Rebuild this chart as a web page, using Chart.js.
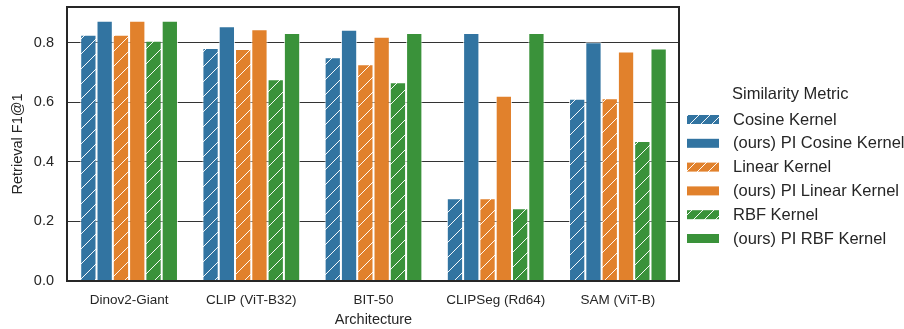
<!DOCTYPE html>
<html>
<head>
<meta charset="utf-8">
<script src="https://cdn.jsdelivr.net/npm/chart.js@4"></script>
<style>
  html, body { margin: 0; padding: 0; background: #fff; }
  #wrap { width: 904px; height: 329px; }
</style>
</head>
<body>
<div id="wrap"><canvas id="myChart" width="904" height="329"></canvas></div>
<script>
// data
var architectures = ['Dinov2-Giant', 'CLIP (ViT-B32)', 'BIT-50', 'CLIPSeg (Rd64)', 'SAM (ViT-B)'];
var cosine   = [0.827, 0.782, 0.751, 0.278, 0.612];
var piCosine = [0.874, 0.855, 0.844, 0.833, 0.802];
var linear   = [0.827, 0.779, 0.728, 0.278, 0.614];
var piLinear = [0.874, 0.845, 0.820, 0.622, 0.771];
var rbf      = [0.807, 0.677, 0.667, 0.244, 0.470];
var piRbf    = [0.874, 0.833, 0.833, 0.833, 0.781];
var yTicks = [0, 0.2, 0.4, 0.6, 0.8];

var BLUE = '#3274a1', ORANGE = '#e1812c', GREEN = '#3a923a';
var FONT = '"Liberation Sans", Arial, sans-serif';
var TEXT = '#262626';

function hatch(color, size) {
    var c = document.createElement('canvas');
    c.width = size; c.height = size;
    var g = c.getContext('2d');
    g.fillStyle = color;
    g.fillRect(0, 0, size, size);
    g.strokeStyle = 'rgba(255,255,255,0.95)';
    g.lineWidth = 1;
    g.beginPath();
    g.moveTo(-1, size + 1); g.lineTo(size + 1, -1);
    g.stroke();
    return g.createPattern(c, 'repeat');
}

var ctx = document.getElementById('myChart').getContext('2d');

var series = [
    { label: 'Cosine Kernel', data: cosine, color: BLUE, hatched: true },
    { label: '(ours) PI Cosine Kernel', data: piCosine, color: BLUE, hatched: false },
    { label: 'Linear Kernel', data: linear, color: ORANGE, hatched: true },
    { label: '(ours) PI Linear Kernel', data: piLinear, color: ORANGE, hatched: false },
    { label: 'RBF Kernel', data: rbf, color: GREEN, hatched: true },
    { label: '(ours) PI RBF Kernel', data: piRbf, color: GREEN, hatched: false }
];

var datasets = series.map(function (s) {
    return {
        label: s.label,
        data: s.data,
        backgroundColor: s.hatched ? hatch(s.color, 15) : s.color,
        borderColor: 'rgba(255,255,255,0.75)',
        borderWidth: 1,
        categoryPercentage: 0.8,
        barPercentage: 1.0,
        legendColor: s.color,
        hatched: s.hatched
    };
});

// frame around the plot + legend on the right
var framePlugin = {
    id: 'frame',
    afterDraw: function (chart) {
        var a = chart.chartArea, c = chart.ctx;
        c.save();
        c.strokeStyle = '#262626';
        c.lineWidth = 2;
        c.strokeRect(a.left - 1, a.top, a.right - a.left + 1, a.bottom - a.top);

        // legend
        var x0 = a.right + 8;
        c.fillStyle = TEXT;
        c.font = '16.5px ' + FONT;
        c.textBaseline = 'middle';
        c.textAlign = 'left';
        c.fillText('Similarity Metric', x0 + 45, 94);
        chart.data.datasets.forEach(function (ds, i) {
            var cy = 119.5 + i * 23.8;
            c.fillStyle = ds.hatched ? hatch(ds.legendColor, 11) : ds.legendColor;
            c.fillRect(x0, cy - 4.5, 32, 9);
            c.fillStyle = TEXT;
            c.fillText(ds.label, x0 + 46, cy + 0.5);
        });
        c.restore();
    }
};

var myChart = new Chart(ctx, {
    type: 'bar',
    data: { labels: architectures, datasets: datasets },
    options: {
        responsive: false,
        animation: false,
        layout: { padding: { top: 7, right: 225, bottom: 0, left: 0 } },
        plugins: {
            legend: { display: false },
            tooltip: { enabled: false }
        },
        scales: {
            x: {
                grid: { display: false, drawTicks: false },
                border: { display: false },
                ticks: { color: TEXT, font: { family: FONT, size: 13.5 }, padding: 11, maxRotation: 0 },
                title: { display: true, text: 'Architecture', color: TEXT, font: { family: FONT, size: 14.5 }, padding: 0 },
                afterFit: function (s) { s.height = 48; s.paddingLeft = 0; s.paddingRight = 0; }
            },
            y: {
                min: 0,
                max: 0.92,
                afterBuildTicks: function (s) { s.ticks = yTicks.map(function (v) { return { value: v }; }); },
                grid: { color: '#333', lineWidth: 1, drawTicks: false },
                border: { display: false },
                ticks: {
                    color: TEXT, font: { family: FONT, size: 14.5 }, padding: 14,
                    callback: function (v) { return Number(v).toFixed(1); }
                },
                title: { display: true, text: 'Retrieval F1@1', color: TEXT, font: { family: FONT, size: 14.5 }, padding: { top: 9, bottom: 0 } },
                afterFit: function (s) { s.width = 68; s.paddingTop = 0; s.paddingBottom = 0; }
            }
        }
    },
    plugins: [framePlugin]
});
</script>
</body>
</html>
